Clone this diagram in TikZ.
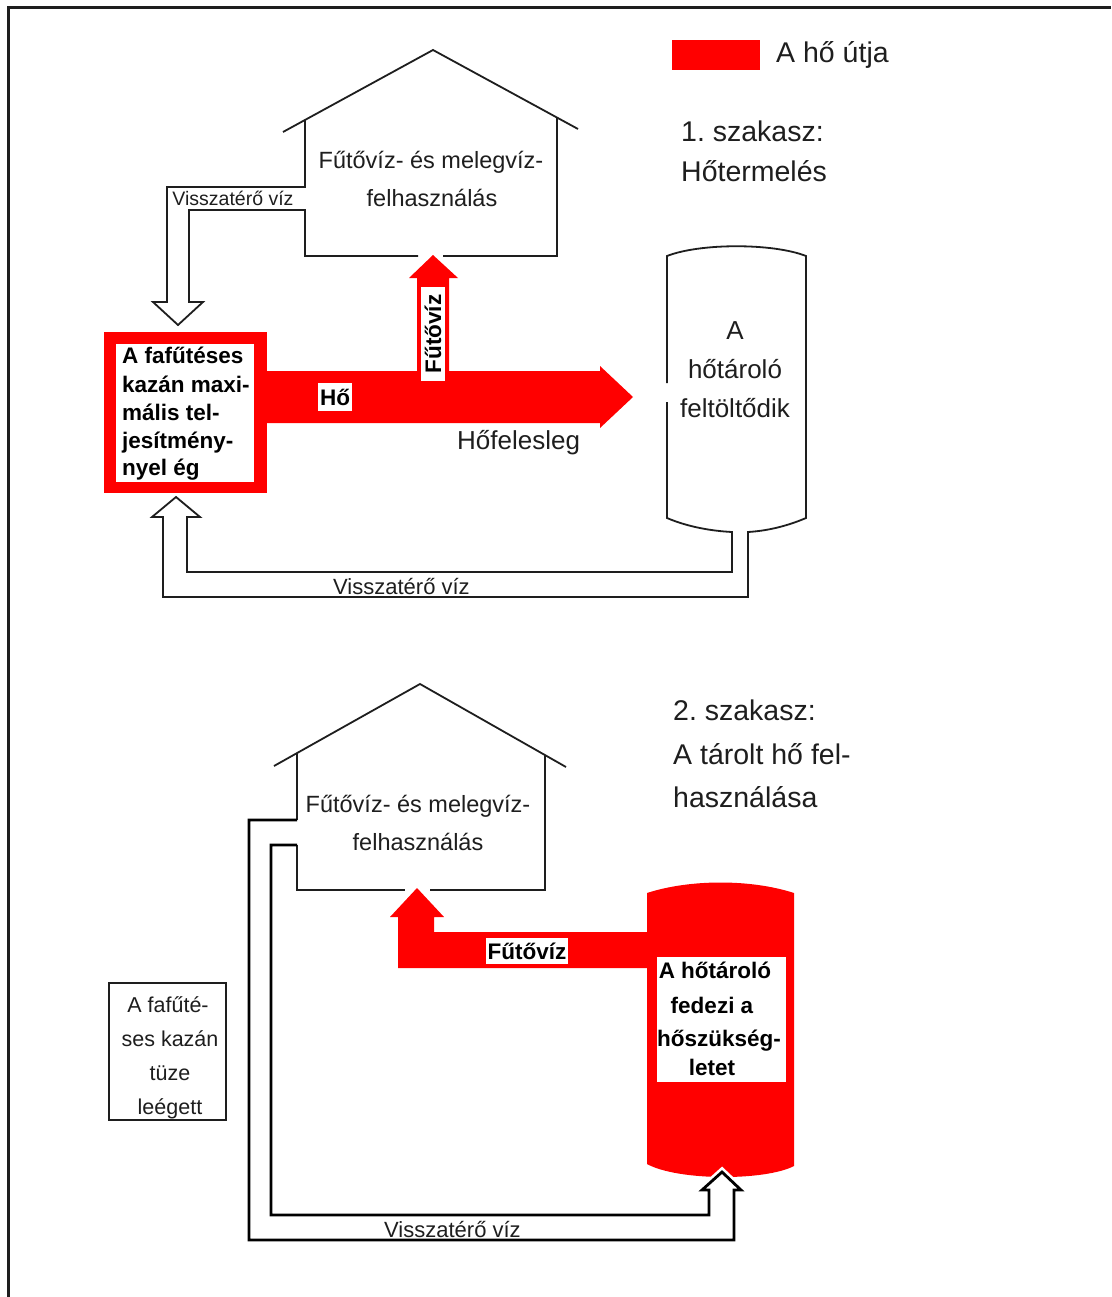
\documentclass[tikz,border=0pt]{standalone}
\usepackage{fontspec}
\setmainfont{Liberation Sans}
\definecolor{ink}{RGB}{30,30,30}
\definecolor{heatred}{RGB}{255,0,0}
\frenchspacing
\begin{document}
\begin{tikzpicture}[x=1pt,y=-1pt,line join=miter,
  thinline/.style={draw=ink,line width=1.8pt},
  thickline/.style={draw=black,line width=2.8pt},
  tA/.style={inner sep=0pt,text=ink,font=\fontsize{28.5}{34}\selectfont},
  tB/.style={inner sep=0pt,text=ink,font=\fontsize{26}{30}\selectfont},
  tC/.style={inner sep=0pt,text=ink,font=\fontsize{23.5}{28}\selectfont},
  tD/.style={inner sep=0pt,text=ink,font=\fontsize{22}{26}\selectfont},
  tE/.style={inner sep=0pt,text=ink,font=\fontsize{19.5}{23}\selectfont},
  tF/.style={inner sep=0pt,text=ink,font=\fontsize{21.5}{25}\selectfont},
  bold/.style={inner sep=0pt,text=black,font=\bfseries\fontsize{22.5}{27}\selectfont},
  wbox/.style={fill=white,inner sep=0pt,text=black,font=\bfseries\fontsize{22.5}{27}\selectfont}]
\useasboundingbox (0,0) rectangle (1111,1297);
\fill[white] (0,0) rectangle (1111,1297);
% frame
\draw[ink,line width=3pt] (8,1297) -- (8,8) -- (1111,8);
% legend
\fill[heatred] (672,40) rectangle (760,70);
\node[tA,anchor=base west] (legend) at (776,63) {A hő útja};
% stage 1 title
\node[tA,anchor=base west] (s1a) at (681,142) {1. szakasz:};
\node[tA,anchor=base west] (s1b) at (681,182) {Hőtermelés};
% house 1
\draw[thinline] (283,132) -- (433,50) -- (578,129);
\draw[thinline] (305,120) -- (305,187) -- (167,187) -- (167,302) -- (153,302) -- (178,325) -- (203,302) -- (189,302) -- (189,210) -- (305,210) -- (305,256) -- (418,256);
\draw[thinline] (443,256) -- (557,256) -- (557,118);
\node[tC,anchor=base] (h1a) at (431,169) {Fűtővíz- és melegvíz-};
\node[tC,anchor=base] (h1b) at (432,207) {felhasználás};
\node[tE,anchor=base] (ret1) at (233,206) {Visszatérő víz};
% heat flow stage 1
\fill[heatred] (267,371) -- (417,371) -- (417,278) -- (409,278) -- (433,255) -- (458,278) -- (449,278) -- (449,371) -- (600,371) -- (600,366) -- (633,397) -- (600,428) -- (600,423) -- (267,423) -- cycle;
% boiler
\fill[heatred] (104,332) rectangle (267,493);
\fill[white] (116,344) rectangle (254,482);
\node[bold,anchor=base west] (b1) at (122,363) {A fafűtéses};
\node[bold,anchor=base west] (b2) at (122,392) {kazán maxi-};
\node[bold,anchor=base west] (b3) at (122,420) {mális tel-};
\node[bold,anchor=base west] (b4) at (122,448) {jesítmény-};
\node[bold,anchor=base west] (b5) at (122,475) {nyel ég};
\node[wbox,minimum width=34,minimum height=28] (ho) at (335,397) {Hő};
\node[wbox,rotate=90,minimum width=94,minimum height=24] (fv1) at (433,334) {Fűtővíz};
\node[tB,anchor=base west] (surplus) at (457,449) {Hőfelesleg};
% tank 1 and return pipe
\draw[thinline] (667,383) -- (667,256) .. controls (700,243) and (773,243) .. (806,256) -- (806,518) .. controls (785,527) and (765,531) .. (748,532) -- (748,597) -- (163,597) -- (163,517) -- (152,517) -- (176,497) -- (200,517) -- (187,517) -- (187,572) -- (732,572) -- (732,532) .. controls (712,531) and (688,527) .. (667,518) -- (667,402);
\node[tB,anchor=base] (k1) at (735,339) {A};
\node[tB,anchor=base] (k2) at (735,378) {hőtároló};
\node[tB,anchor=base] (k3) at (735,417) {feltöltődik};
\node[tD,anchor=base west] (ret2) at (333,594) {Visszatérő víz};
% stage 2 title
\node[tA,anchor=base west] (s2a) at (673,720) {2. szakasz:};
\node[tA,anchor=base west] (s2b) at (673,764) {A tárolt hő fel-};
\node[tA,anchor=base west] (s2c) at (673,807) {használása};
% house 2
\draw[thinline] (274,766) -- (420,684) -- (566,767);
\draw[thinline] (297,753) -- (297,820);
\draw[thinline] (297,845) -- (297,890) -- (405,890);
\draw[thinline] (430,890) -- (545,890) -- (545,755);
\node[tC,anchor=base] (h2a) at (418,812) {Fűtővíz- és melegvíz-};
\node[tC,anchor=base] (h2b) at (418,850) {felhasználás};
% tank 2 (red)
\fill[heatred] (647,893) .. controls (690,879) and (751,879) .. (794,893) -- (794,1166) .. controls (765,1181) and (678,1181) .. (647,1164) -- cycle;
\fill[heatred] (648,932) -- (434,932) -- (434,917) -- (444,917) -- (417,888) -- (390,917) -- (398,917) -- (398,968) -- (648,968) -- cycle;
\node[wbox,minimum width=82,minimum height=26] (fv2) at (527,951) {Fűtővíz};
\fill[white] (657,957) rectangle (786,1082);
\node[bold,anchor=base] (c1) at (715,978) {A hőtároló};
\node[bold,anchor=base] (c2) at (712,1013) {fedezi a};
\node[bold,anchor=base] (c3) at (719,1046) {hőszükség-};
\node[bold,anchor=base] (c4) at (712,1075) {letet};
% return pipe stage 2
\draw[white,line width=8pt,line cap=round] (702,1190) -- (722,1172) -- (741,1190);
\fill[white] (702,1190) -- (722,1172) -- (741,1190) -- cycle;
\draw[thickline] (297,820) -- (249,820) -- (249,1240) -- (734,1240) -- (734,1190) -- (741,1190) -- (722,1172) -- (702,1190) -- (709,1190) -- (709,1215) -- (271,1215) -- (271,845) -- (297,845);
\node[tD,anchor=base west] (ret3) at (384,1237) {Visszatérő víz};
% burnt-out boiler box
\draw[ink,line width=2.5pt] (109,983) rectangle (226,1120);
\node[tF,anchor=base] (d1) at (168,1012) {A fafűté-};
\node[tF,anchor=base] (d2) at (170,1046) {ses kazán};
\node[tF,anchor=base] (d3) at (170,1080) {tüze};
\node[tF,anchor=base] (d4) at (170,1114) {leégett};
\end{tikzpicture}
\end{document}
